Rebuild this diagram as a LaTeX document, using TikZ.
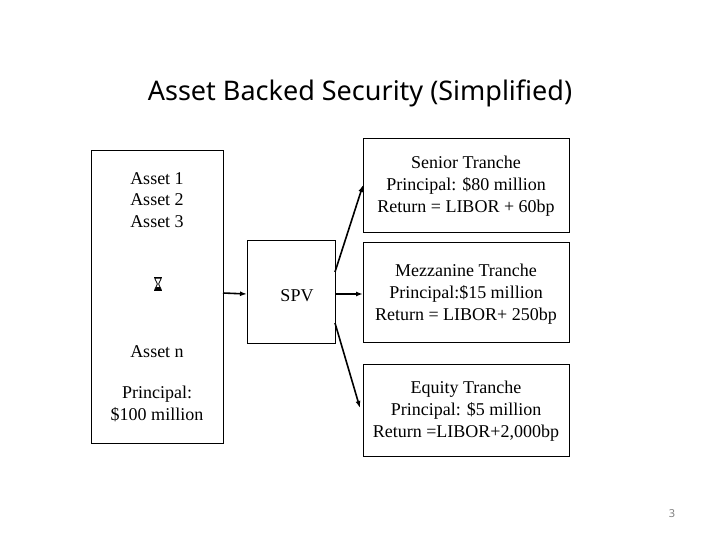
\documentclass[tikz,border=0pt]{standalone}
\usepackage{fontspec}
\setmainfont{Liberation Serif}
\newfontfamily\titlefont{Noto Sans}
\usetikzlibrary{arrows.meta}
\begin{document}
\begin{tikzpicture}[x=1pt,y=-1pt,
  box/.style={draw=black,line width=0.8pt,inner sep=0pt},
  body/.style={font=\fontsize{18}{21.7}\selectfont,align=center,inner sep=0pt},
  conn/.style={line width=1.6pt,-{Latex[length=7pt,width=5pt]}},
  glass/.style={line width=0.8pt,line join=round}]
\useasboundingbox (0,0) rectangle (720,540);
\node[font=\titlefont\fontsize{27}{30}\selectfont,inner sep=0pt] (title) at (360,93) {Asset Backed Security (Simplified)};
% boxes
\draw[box] (91,150) rectangle (223,443);
\coordinate (lbR) at (223,293);
\draw[box] (247,240) rectangle (335,343);
\coordinate (spvL) at (247,294);
\coordinate (spvR) at (335,294);
\coordinate (spvRT) at (335,272);
\coordinate (spvRB) at (335,323);
\node[body] (spv) at (297,296) {SPV};
\draw[box] (363,138) rectangle (569,232);
\draw[box] (363,242) rectangle (569,342);
\draw[box] (363,364) rectangle (569,456);
\coordinate (senA) at (363,185);
\coordinate (mezA) at (363,294);
\coordinate (eqA) at (360,408);
\node[body] (sen) at (466,186) {Senior Tranche\\Principal: \$80 million\\Return = LIBOR + 60bp};
\node[body] (mez) at (466,294) {Mezzanine Tranche\\Principal:\$15 million\\Return = LIBOR+ 250bp};
\node[body] (eq) at (466,411) {Equity Tranche\\Principal: \$5 million\\Return =LIBOR+2,000bp};
\node[body] (assets) at (157,200) {Asset 1\\Asset 2\\Asset 3};
% hourglass symbol
\begin{scope}[shift={(158,284)}]
  \fill (-4,-7) rectangle (4,-5.8);
  \fill (-4,5.8) rectangle (4,7);
  \draw[glass] (-3.3,-5.8) -- (3.3,-5.8) -- (0.6,0) -- (3.3,5.8) -- (-3.3,5.8) -- (-0.6,0) -- cycle;
  \fill (-3.3,5.8) -- (3.3,5.8) -- (1.6,3) -- (-1.6,3) -- cycle;
\end{scope}
\node[body] (assetn) at (157,352) {Asset n};
\node[body] (lprin) at (157,404) {Principal:\\\$100 million};
\node[font=\titlefont\fontsize{11}{11}\selectfont,text=gray,inner sep=0pt] (pg) at (672,514) {3};
% connectors
\draw[conn] (lbR) -- (spvL);
\draw[conn] (spvRT) -- (senA);
\draw[conn] (spvR) -- (mezA);
\draw[conn] (spvRB) -- (eqA);
\end{tikzpicture}
\end{document}
